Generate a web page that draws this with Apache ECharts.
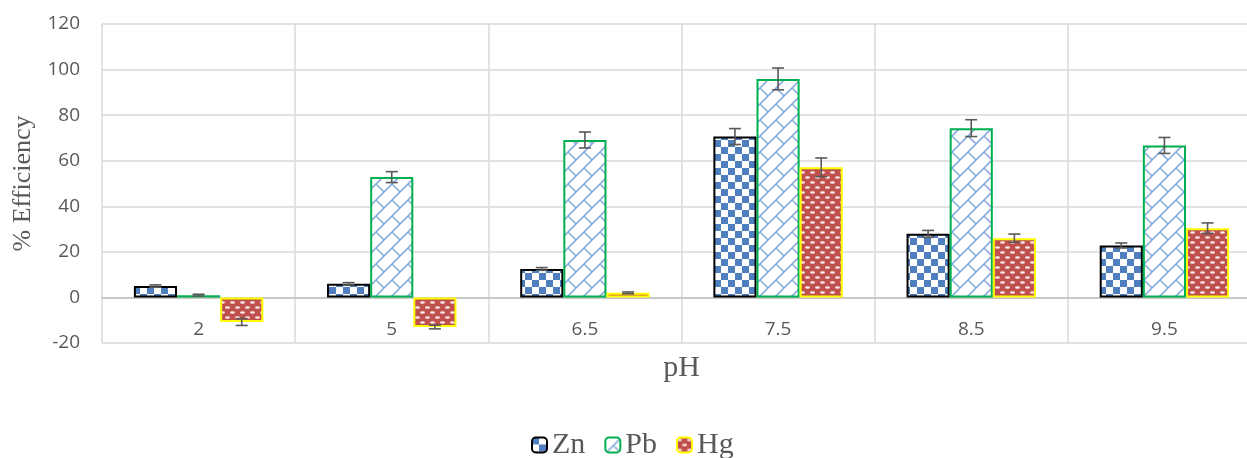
<!DOCTYPE html>
<html>
<head>
<meta charset="utf-8">
<script src="https://cdn.jsdelivr.net/npm/echarts@6/dist/echarts.min.js"></script>
<style>
  html, body { margin: 0; padding: 0; background: #fff; }
  #main { width: 1247px; height: 458px; }
</style>
</head>
<body>
<div id="main"></div>
<script>
// pH categories and removal efficiency (%) per metal, with error bar half-widths
var categories = ['2', '5', '6.5', '7.5', '8.5', '9.5'];
var znValues = [5, 6, 12.5, 70.6, 27.9, 22.8];
var pbValues = [1, 52.8, 69.1, 95.9, 74.3, 66.7];
var hgValues = [-10.8, -13, 2, 57.1, 26, 30.4];
var znErr = [0.5, 0.5, 0.6, 3.5, 1.5, 1.1];
var pbErr = [0.4, 2.4, 3.5, 4.8, 3.7, 3.5];
var hgErr = [1.5, 0.8, 0.4, 4.1, 1.8, 2.3];

var chart = echarts.init(document.getElementById('main'));

function makeTile(w, h, draw) {
  var c = document.createElement('canvas');
  c.width = w;
  c.height = h;
  draw(c.getContext('2d'));
  return c;
}

// checkerboard for Zn
var znTile = makeTile(14, 14, function (ctx) {
  ctx.fillStyle = '#fff';
  ctx.fillRect(0, 0, 14, 14);
  ctx.fillStyle = '#4f7fbf';
  ctx.fillRect(0, 0, 7, 7);
  ctx.fillRect(7, 7, 7, 7);
});

// diagonal brick for Pb
var pbTile = makeTile(16, 16, function (ctx) {
  ctx.fillStyle = '#fff';
  ctx.fillRect(0, 0, 16, 16);
  ctx.strokeStyle = '#8aaddb';
  ctx.lineWidth = 1.6;
  ctx.beginPath();
  ctx.moveTo(-2, 18); ctx.lineTo(18, -2);
  ctx.moveTo(-2, 2); ctx.lineTo(2, -2);
  ctx.moveTo(14, 18); ctx.lineTo(18, 14);
  ctx.moveTo(8, 8); ctx.lineTo(16, 16);
  ctx.stroke();
});

// red with white dashes for Hg
var hgTile = makeTile(10, 10, function (ctx) {
  ctx.fillStyle = '#c0504d';
  ctx.fillRect(0, 0, 10, 10);
  ctx.fillStyle = '#f9e8e8';
  var dots = [[2.5, 2.5], [7.5, 7.5], [-2.5, 7.5], [12.5, 7.5]];
  dots.forEach(function (d) {
    ctx.beginPath();
    ctx.ellipse(d[0], d[1], 2.5, 1.3, 0, 0, Math.PI * 2);
    ctx.fill();
  });
});

var gapRatio = 0.33;

function errorSeries(values, errs, slot) {
  var data = values.map(function (v, i) { return [i, v, errs[i]]; });
  return {
    type: 'custom',
    z: 10,
    silent: true,
    data: data,
    renderItem: function (params, api) {
      var idx = api.value(0);
      var v = api.value(1);
      var e = api.value(2);
      var band = api.size([1, 0])[0];
      var barW = band * (1 - gapRatio) / 3;
      var x = api.coord([idx, v])[0] + slot * barW;
      var yTop = api.coord([idx, v + e])[1];
      var yBot = api.coord([idx, v - e])[1];
      var cap = 6;
      var style = { stroke: '#595959', lineWidth: 1.6 };
      return {
        type: 'group',
        children: [
          { type: 'line', shape: { x1: x, y1: yTop, x2: x, y2: yBot }, style: style },
          { type: 'line', shape: { x1: x - cap, y1: yTop, x2: x + cap, y2: yTop }, style: style },
          { type: 'line', shape: { x1: x - cap, y1: yBot, x2: x + cap, y2: yBot }, style: style }
        ]
      };
    }
  };
}

var option = {
  animation: false,
  grid: {
    left: 102,
    width: 1159,
    top: 24,
    height: 319,
    outerBoundsMode: 'none'
  },
  legend: {
    left: 526,
    top: 425,
    itemWidth: 15,
    itemHeight: 15,
    itemGap: 19,
    data: ['Zn', 'Pb', 'Hg'],
    textStyle: {
      fontFamily: 'Liberation Serif',
      fontSize: 30,
      color: '#595959'
    }
  },
  xAxis: {
    type: 'category',
    data: categories,
    name: 'pH',
    nameLocation: 'middle',
    nameGap: 56,
    nameTextStyle: {
      fontFamily: 'Liberation Serif',
      fontSize: 30,
      color: '#595959'
    },
    // axis sits on the zero line (one 20-unit step above the bottom)
    offset: -45.6,
    axisLine: { onZero: false, lineStyle: { color: '#bfbfbf', width: 1.5 } },
    axisTick: { show: false },
    axisLabel: {
      margin: 23,
      fontFamily: 'Open Sans',
      fontSize: 19,
      color: '#595959'
    },
    splitLine: { show: true, lineStyle: { color: '#d9d9d9', width: 1.5 } }
  },
  yAxis: {
    type: 'value',
    min: -20,
    max: 120,
    interval: 20,
    name: '% Efficiency',
    nameLocation: 'middle',
    nameGap: 66,
    nameTextStyle: {
      fontFamily: 'Liberation Serif',
      fontSize: 26,
      color: '#595959'
    },
    axisLine: { show: false },
    axisTick: { show: false },
    axisLabel: {
      margin: 22,
      fontFamily: 'Open Sans',
      fontSize: 19,
      color: '#595959'
    },
    splitLine: { lineStyle: { color: '#d9d9d9', width: 1.5 } }
  },
  series: [
    {
      name: 'Zn',
      type: 'bar',
      data: znValues,
      barGap: '0%',
      barCategoryGap: '33%',
      itemStyle: {
        color: { image: znTile, repeat: 'repeat' },
        borderColor: '#000',
        borderWidth: 2
      }
    },
    {
      name: 'Pb',
      type: 'bar',
      data: pbValues,
      barGap: '0%',
      barCategoryGap: '33%',
      itemStyle: {
        color: { image: pbTile, repeat: 'repeat' },
        borderColor: '#00b050',
        borderWidth: 2
      }
    },
    {
      name: 'Hg',
      type: 'bar',
      data: hgValues,
      barGap: '0%',
      barCategoryGap: '33%',
      itemStyle: {
        color: { image: hgTile, repeat: 'repeat' },
        borderColor: '#ffff00',
        borderWidth: 2
      }
    },
    errorSeries(znValues, znErr, -1),
    errorSeries(pbValues, pbErr, 0),
    errorSeries(hgValues, hgErr, 1)
  ]
};

chart.setOption(option);
</script>
</body>
</html>
